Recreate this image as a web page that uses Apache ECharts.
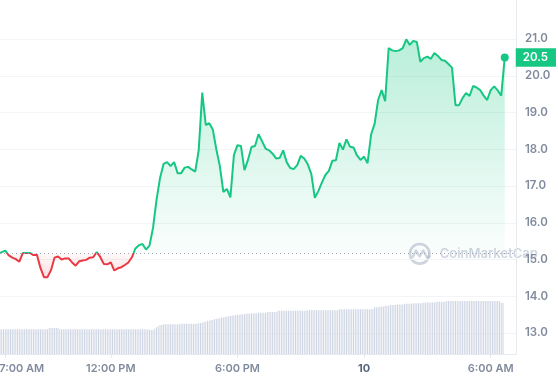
<!DOCTYPE html>
<html><head><meta charset="utf-8">
<script src="https://cdn.jsdelivr.net/npm/echarts@6/dist/echarts.min.js"></script>
<style>html,body{margin:0;padding:0;background:#fff}#c{width:558px;height:380px}</style>
</head><body><div id="c"></div>
<script>
// ---- data ----
const startHour = 6 + 40 / 60;       // 6:40 AM, hours since midnight of day 9
const priceStepHours = 10 / 60;
const volumeStepHours = 5 / 60;
const baseline = 15.17;              // 24h open price (dotted line)

const prices = [
  15.15, 15.20, 15.24, 15.11, 15.05, 15.01, 14.94, 15.18, 15.18, 15.18,
  15.12, 15.13, 14.77, 14.52, 14.52, 14.71, 15.05, 15.08, 15.00, 15.03,
  15.03, 14.92, 14.83, 14.95, 14.97, 14.99, 15.05, 15.06, 15.20, 15.07,
  14.88, 14.87, 14.92, 14.70, 14.76, 14.79, 14.85, 14.92, 15.06, 15.30,
  15.39, 15.42, 15.27, 15.38, 15.86, 16.62, 17.22, 17.60, 17.65, 17.54,
  17.65, 17.35, 17.35, 17.50, 17.52, 17.45, 17.39, 17.98, 19.54, 18.66,
  18.71, 18.54, 18.00, 17.54, 16.84, 16.92, 16.69, 17.84, 18.11, 18.09,
  17.43, 17.71, 18.06, 18.09, 18.41, 18.22, 18.02, 17.97, 17.88, 17.75,
  17.76, 17.97, 17.65, 17.49, 17.46, 17.57, 17.82, 17.75, 17.59, 17.33,
  16.68, 16.86, 17.09, 17.30, 17.41, 17.69, 17.70, 18.17, 17.99, 18.27,
  18.07, 18.05, 17.83, 17.71, 17.80, 17.62, 18.40, 18.69, 19.34, 19.61,
  19.31, 20.75, 20.69, 20.67, 20.69, 20.75, 20.99, 20.84, 20.95, 20.92,
  20.38, 20.48, 20.52, 20.46, 20.62, 20.54, 20.43, 20.41, 20.32, 20.22,
  19.20, 19.20, 19.39, 19.53, 19.45, 19.72, 19.68, 19.61, 19.46, 19.34,
  19.61, 19.71, 19.60, 19.46, 20.50
];

// volume, millions USD (5-minute bars)
const volumes = [
  247,247,247,247,247,247,247,247,247,247,247,247,247,247,247,247,247,247,247,247,
  247,247,247,247,247,247,247,247,247,260,260,260,260,260,260,248,248,248,248,248,
  248,248,248,248,248,248,248,248,248,248,248,248,248,248,248,248,248,248,248,248,
  248,248,248,248,248,248,248,248,248,248,248,248,248,248,248,248,248,248,248,248,
  248,248,248,248,248,248,242,242,242,255,268,278,290,290,298,298,298,298,298,298,
  298,298,298,298,302,302,302,302,302,302,302,302,302,302,310,310,310,322,322,332,
  332,340,340,350,350,357,357,365,365,372,372,380,380,385,385,392,392,392,397,397,
  397,403,403,403,408,408,408,408,413,413,413,413,413,420,420,420,420,420,420,432,
  432,432,432,432,432,432,432,432,432,432,432,432,432,432,432,432,438,438,438,438,
  438,438,438,438,438,438,438,438,438,438,438,438,438,438,448,448,448,448,448,448,
  448,448,448,448,448,448,448,448,448,448,448,448,448,448,468,468,468,475,475,475,
  483,483,483,490,490,490,490,495,495,495,495,502,502,502,502,502,508,508,508,508,
  508,508,515,515,515,515,515,515,515,522,522,522,522,522,522,530,530,530,530,530,
  530,530,530,530,530,530,530,530,530,530,530,530,530,530,530,530,530,530,530,530,
  530,530,530,530,530,530,513,513
];

const tickHours = [7, 12, 18, 24, 30];
const tickLabels = ['7:00 AM', '12:00 PM', '6:00 PM', '10', '6:00 AM'];

// ---- chart ----
const GREEN = '#16c784', RED = '#ea3943';
const LABEL = '#808a9d';
const FONT = 'Inter';
const xMin = 6.75, xMax = 31.2;

const pMax = Math.max(...prices), pMin = Math.min(...prices);
const f = (pMax - baseline) / (pMax - pMin);

const priceData = prices.map((v, i) => {
  const pt = [startHour + i * priceStepHours, v];
  if (i === prices.length - 1) {
    return { value: pt, symbol: 'circle', symbolSize: 8, itemStyle: { color: GREEN } };
  }
  return pt;
});
const volumeData = volumes.map((v, i) => [startHour + i * volumeStepHours, v]);

const wm = 'rgba(160,170,192,0.5)';

const chart = echarts.init(document.getElementById('c'), null, { renderer: 'canvas' });
chart.setOption({
  animation: false,
  backgroundColor: '#fff',
  textStyle: { fontFamily: FONT },
  grid: [
    { left: 0, right: 42, top: 2.25, height: 367.5, containLabel: false, outerBoundsMode: 'none' },
    { left: 0, right: 42, top: 0, bottom: 26, containLabel: false, outerBoundsMode: 'none' }
  ],
  xAxis: [
    { type: 'value', gridIndex: 0, min: xMin, max: xMax, show: false },
    {
      type: 'value', gridIndex: 1, min: xMin, max: xMax,
      axisLine: { show: true, lineStyle: { color: '#e6e9ee' } },
      axisTick: { show: true, customValues: tickHours, length: 4, lineStyle: { color: '#e6e9ee' } },
      splitLine: { show: false },
      axisLabel: {
        customValues: tickHours,
        color: LABEL, fontSize: 11, fontWeight: 600, fontFamily: FONT, margin: 9,
        formatter: (v) => {
          const idx = tickHours.indexOf(v);
          if (idx < 0) return '';
          const t = tickLabels[idx];
          if (idx === 0) return '{first|' + t + '}';
          if (t === '10') return '{day|' + t + '}';
          return t;
        },
        rich: {
          first: { padding: [0, 0, 0, 33], color: LABEL, fontSize: 11, fontWeight: 600, fontFamily: FONT },
          day: { color: '#58667e', fontSize: 11, fontWeight: 700, fontFamily: FONT }
        }
      }
    }
  ],
  yAxis: [
    {
      type: 'value', gridIndex: 0, position: 'right', min: 12, max: 22, interval: 1,
      axisLine: { show: false }, axisTick: { show: false },
      splitLine: { show: true, showMinLine: false, showMaxLine: false, lineStyle: { color: '#f3f4f6' } },
      axisLabel: {
        showMinLabel: false, showMaxLabel: false,
        formatter: (v) => v.toFixed(1),
        color: LABEL, fontSize: 11.5, fontWeight: 600, fontFamily: FONT, margin: 9
      }
    },
    {
      type: 'value', gridIndex: 1, position: 'right', min: 0, max: 3540,
      axisLine: { show: true, lineStyle: { color: '#e6e9ee' } },
      axisTick: { show: false }, axisLabel: { show: false }, splitLine: { show: false }
    }
  ],
  visualMap: {
    type: 'piecewise', show: false, seriesIndex: 1, dimension: 1,
    pieces: [
      { gt: baseline, lte: 100, color: GREEN },
      { gte: 0, lte: baseline, color: RED }
    ]
  },
  series: [
    {
      type: 'bar', xAxisIndex: 1, yAxisIndex: 1, data: volumeData, barWidth: 1,
      itemStyle: { color: '#cdd4e2' }, silent: true
    },
    {
      type: 'line', xAxisIndex: 0, yAxisIndex: 0, data: priceData,
      symbol: 'none', lineStyle: { width: 2 },
      areaStyle: {
        origin: baseline, opacity: 1,
        color: {
          type: 'linear', x: 0, y: 0, x2: 0, y2: 1,
          colorStops: [
            { offset: 0, color: 'rgba(22,199,132,0.30)' },
            { offset: f, color: 'rgba(22,199,132,0.02)' },
            { offset: f, color: 'rgba(234,57,67,0.03)' },
            { offset: 1, color: 'rgba(234,57,67,0.16)' }
          ]
        }
      },
      endLabel: {
        show: true, formatter: (p) => p.value[1].toFixed(1),
        color: '#fff', backgroundColor: GREEN, padding: [3, 8, 3, 7],
        fontSize: 11.5, fontWeight: 600, fontFamily: FONT, lineHeight: 12.5, distance: 11
      },
      markLine: {
        silent: true, symbol: ['none', 'none'], label: { show: false },
        lineStyle: { type: [1, 3], color: '#a0a8b8', width: 1 },
        data: [{ yAxis: baseline }]
      }
    }
  ],
  graphic: [
    {
      type: 'group', x: 408, y: 242, silent: true, z: 50,
      children: [
        { type: 'circle', shape: { cx: 11.7, cy: 11.8, r: 9.8 }, style: { fill: 'none', stroke: wm, lineWidth: 2.6 } },
        { type: 'polyline', shape: { points: [[4.5, 15.5], [8, 8.5], [11.7, 14.5], [15.3, 8.5], [19, 15.5], [22, 13.5]] },
          style: { fill: 'none', stroke: wm, lineWidth: 2.3, lineJoin: 'round' } },
        { type: 'text', x: 31.7, y: 11.8, style: { text: 'CoinMarketCap', font: '600 13px Inter', fill: wm, verticalAlign: 'middle' } }
      ]
    }
  ]
});
</script>
</body></html>
